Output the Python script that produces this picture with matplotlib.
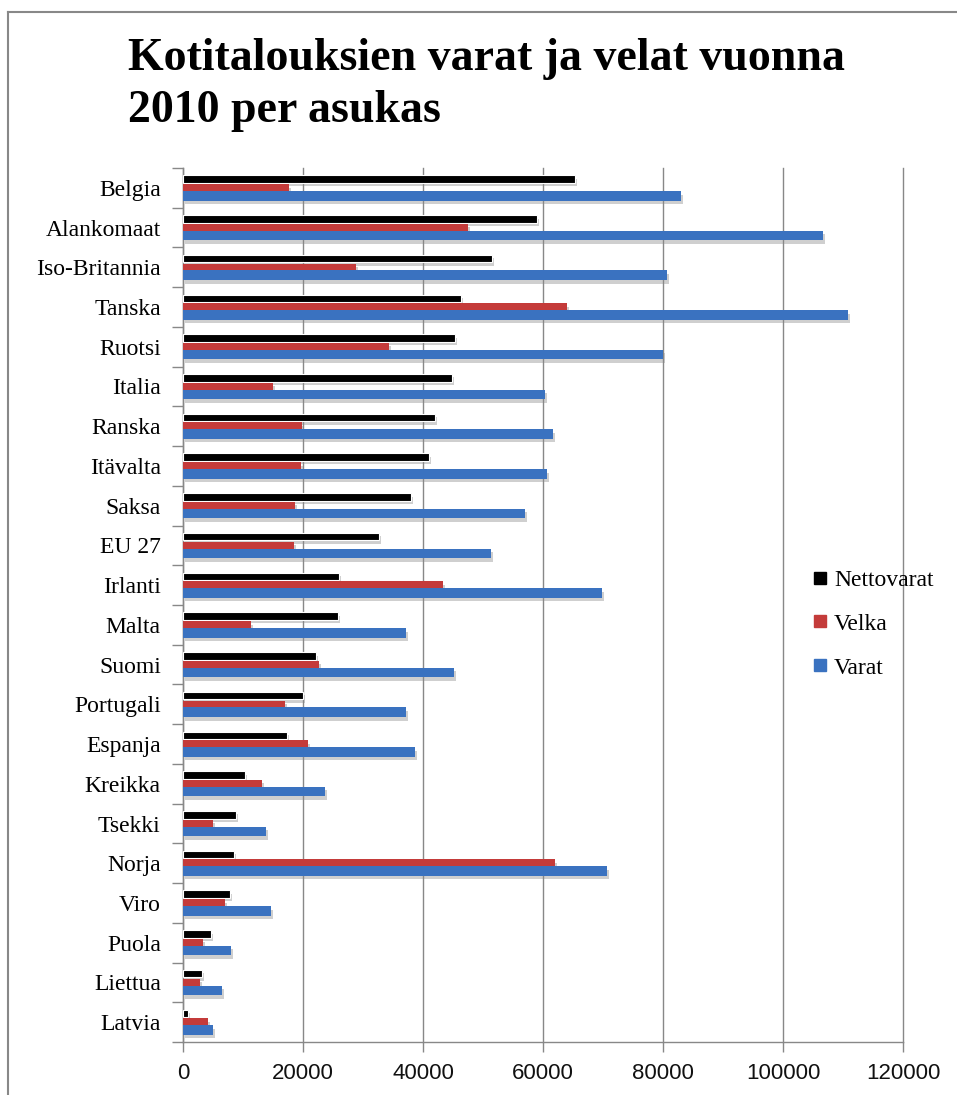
import numpy as np
import matplotlib
matplotlib.use("Agg")
import matplotlib.pyplot as plt
from matplotlib.lines import Line2D
import matplotlib.patheffects as pe

countries = ["Belgia", "Alankomaat", "Iso-Britannia", "Tanska", "Ruotsi", "Italia",
             "Ranska", "Itävalta", "Saksa", "EU 27", "Irlanti", "Malta", "Suomi",
             "Portugali", "Espanja", "Kreikka", "Tsekki", "Norja", "Viro", "Puola",
             "Liettua", "Latvia"]
nettovarat = [65300, 59000, 51500, 46300, 45400, 44800, 42000, 41000, 38000, 32700,
              26000, 25800, 22100, 20000, 17400, 10400, 8900, 8500, 7800, 4600,
              3100, 800]
velka = [17700, 47500, 28800, 64000, 34300, 15000, 19900, 19600, 18700, 18500,
         43400, 11400, 22700, 17000, 20800, 13100, 5000, 62000, 7000, 3300,
         2900, 4200]
varat = [83000, 106700, 80600, 110800, 80000, 60400, 61600, 60600, 57000, 51400,
         69800, 37200, 45200, 37200, 38600, 23600, 13800, 70600, 14600, 8000,
         6500, 5000]
xticks = [0, 20000, 40000, 60000, 80000, 100000, 120000]

serif = "Liberation Serif"
sans = "Liberation Sans"
c_black = "#000000"
c_red = "#c43b3a"
c_blue = "#3a72c0"

fig = plt.figure(figsize=(9.57, 10.95), dpi=100)
ax = fig.add_axes([183/957, 1 - 1042/1095, (903-183)/957, (1042-168)/1095])

y = np.arange(len(countries))
shadow = [pe.SimplePatchShadow(offset=(1.5, -2.5), shadow_rgbFace="#888888", alpha=0.4), pe.Normal()]

ax.barh(y - 0.22, nettovarat, height=0.19, color=c_black, edgecolor="white", linewidth=0.8,
        path_effects=shadow, zorder=3, label="Nettovarat")
ax.barh(y, velka, height=0.19, color=c_red, path_effects=shadow, zorder=3, label="Velka")
ax.barh(y + 0.2, varat, height=0.24, color=c_blue, path_effects=shadow, zorder=3, label="Varat")

ax.set_xlim(0, 120000)
ax.set_ylim(len(countries) - 0.5, -0.5)
ax.set_xticks(xticks)
ax.set_xticklabels([str(v) for v in xticks], fontfamily=sans, fontsize=16, color="#111111")
ax.set_yticks(y)
ax.set_yticklabels(countries, fontfamily=serif, fontsize=17)
ax.set_yticks(np.arange(len(countries) + 1) - 0.5, minor=True)
ax.tick_params(axis="y", which="major", length=0, pad=16)
ax.tick_params(axis="y", which="minor", length=8, color="#888888", width=1)
ax.tick_params(axis="x", which="major", length=7, color="#888888", width=1, pad=8)

ax.grid(axis="x", color="#888888", linewidth=1, zorder=0)
for gl in ax.get_xgridlines():
    gl.set_clip_on(False)
ax.set_axisbelow(True)
for s in ["top", "right"]:
    ax.spines[s].set_visible(False)
for s in ["left", "bottom"]:
    ax.spines[s].set_color("#888888")
    ax.spines[s].set_linewidth(1)

handles = [Line2D([], [], marker="s", linestyle="", markersize=9, color=c, markeredgecolor=c)
           for c in (c_black, c_red, c_blue)]
leg = ax.legend(handles, ["Nettovarat", "Velka", "Varat"], loc="upper left",
                bbox_to_anchor=((787-183)/720, 1 - (548-168)/874), frameon=False,
                prop={"family": serif, "size": 17}, handletextpad=0.1,
                labelspacing=0.95, handlelength=1.0)

fig.text(128/957, 1 - 38/1095, "Kotitalouksien varat ja velat vuonna\n2010 per asukas",
         fontfamily=serif, fontweight="bold", fontsize=33, ha="left", va="top",
         linespacing=1.3)

# outer chart border (top and left edges visible)
fig.add_artist(Line2D([8/957, 1], [1 - 12/1095, 1 - 12/1095], color="#888888", linewidth=1.5))
fig.add_artist(Line2D([8/957, 8/957], [0, 1 - 12/1095], color="#888888", linewidth=1.5))

fig.savefig("out.png", dpi=100)
